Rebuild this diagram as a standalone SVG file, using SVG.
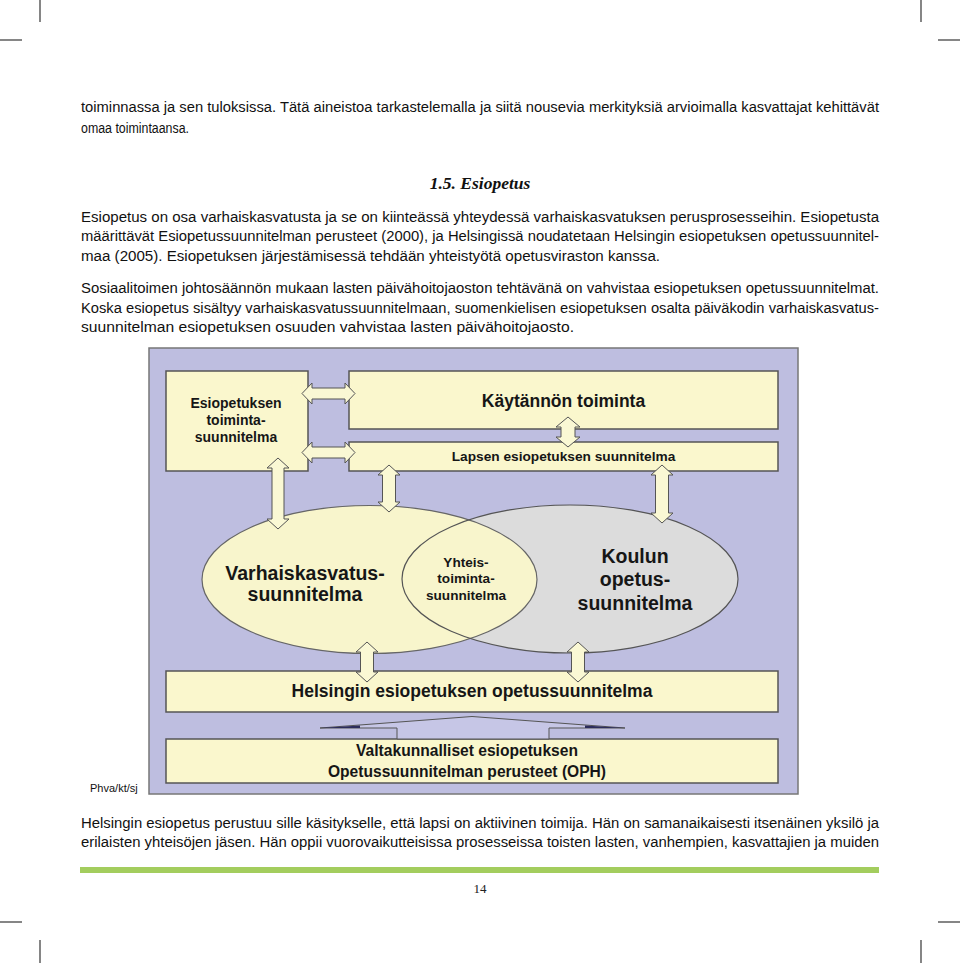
<svg xmlns="http://www.w3.org/2000/svg" width="960" height="963" viewBox="0 0 960 963">
<style>
.body{font-family:"Liberation Sans",Arial,sans-serif;font-size:14px;fill:#111}
.dg{font-family:"Liberation Sans",Arial,sans-serif;font-weight:bold;fill:#161616;text-anchor:middle}
.box{fill:#faf7cd;stroke:#555;stroke-width:1.5}
.arr{fill:#faf8d4;stroke:#555;stroke-width:1}
.crop{stroke:#444;stroke-width:1.3;fill:none}
</style>
<defs>
<clipPath id="clipL"><ellipse cx="369.5" cy="579.5" rx="167.5" ry="74"/></clipPath>
</defs>
<rect width="960" height="963" fill="#fff"/>
<!-- crop marks -->
<g id="cropmarks" class="crop">
<line x1="40" y1="0" x2="40" y2="22"/><line x1="921" y1="0" x2="921" y2="22"/>
<line x1="0" y1="40" x2="22" y2="40"/><line x1="938" y1="40" x2="960" y2="40"/>
<line x1="0" y1="922" x2="22" y2="922"/><line x1="938" y1="922" x2="960" y2="922"/>
<line x1="40" y1="940" x2="40" y2="963"/><line x1="921" y1="940" x2="921" y2="963"/>
</g>
<!-- page text -->
<g id="text-top" class="body">
<text x="81" y="112" textLength="798" lengthAdjust="spacingAndGlyphs">toiminnassa ja sen tuloksissa. Tätä aineistoa tarkastelemalla ja siitä nousevia merkityksiä arvioimalla kasvattajat kehittävät</text>
<text x="81" y="133" textLength="108" lengthAdjust="spacingAndGlyphs">omaa toimintaansa.</text>
</g>
<text id="heading" x="480" y="189" text-anchor="middle" font-family="'Liberation Serif','Times New Roman',serif" font-weight="bold" font-style="italic" font-size="17.5" fill="#111">1.5. Esiopetus</text>
<g id="text-mid" class="body">
<text x="81" y="222" textLength="798" lengthAdjust="spacingAndGlyphs">Esiopetus on osa varhaiskasvatusta ja se on kiinteässä yhteydessä varhaiskasvatuksen perusprosesseihin. Esiopetusta</text>
<text x="81" y="241" textLength="798" lengthAdjust="spacingAndGlyphs">määrittävät Esiopetussuunnitelman perusteet (2000), ja Helsingissä noudatetaan Helsingin esiopetuksen opetussuunnitel-</text>
<text x="81" y="261" textLength="579" lengthAdjust="spacingAndGlyphs">maa (2005). Esiopetuksen järjestämisessä tehdään yhteistyötä opetusviraston kanssa.</text>
<text x="81" y="293" textLength="798" lengthAdjust="spacingAndGlyphs">Sosiaalitoimen johtosäännön mukaan lasten päivähoitojaoston tehtävänä on vahvistaa esiopetuksen opetussuunnitelmat.</text>
<text x="81" y="313" textLength="798" lengthAdjust="spacingAndGlyphs">Koska esiopetus sisältyy varhaiskasvatussuunnitelmaan, suomenkielisen esiopetuksen osalta päiväkodin varhaiskasvatus-</text>
<text x="81" y="332" textLength="493" lengthAdjust="spacingAndGlyphs">suunnitelman esiopetuksen osuuden vahvistaa lasten päivähoitojaosto.</text>
</g>
<!-- diagram background -->
<rect id="diagram-bg" x="149" y="348" width="649" height="446" fill="#bebee0" stroke="#777" stroke-width="1.5"/>
<g id="node-toimintasuunnitelma">
<rect class="box" x="166" y="371" width="142" height="100"/>
<text class="dg" font-size="14"><tspan x="236" y="408">Esiopetuksen</tspan><tspan x="236" y="425">toiminta-</tspan><tspan x="236" y="442">suunnitelma</tspan></text>
</g>
<g id="node-kaytannon">
<rect class="box" x="349" y="371" width="429" height="58"/>
<text class="dg" font-size="17.5" x="563.5" y="407">Käytännön toiminta</text>
</g>
<g id="node-lapsen">
<rect class="box" x="349" y="442" width="429" height="29"/>
<text class="dg" font-size="13.7" x="563.5" y="461">Lapsen esiopetuksen suunnitelma</text>
</g>
<g id="node-helsingin">
<rect class="box" x="166" y="671" width="612" height="41"/>
<text class="dg" font-size="17.5" x="472" y="697">Helsingin esiopetuksen opetussuunnitelma</text>
</g>
<g id="node-valtakunnalliset">
<rect class="box" x="166" y="739" width="612" height="44"/>
<text class="dg" font-size="15.6"><tspan x="467" y="756">Valtakunnalliset esiopetuksen</tspan><tspan x="467" y="777">Opetussuunnitelman perusteet (OPH)</tspan></text>
</g>
<g id="node-ellipses">
<ellipse cx="369.5" cy="579.5" rx="167.5" ry="74" fill="#f8f5cc"/>
<ellipse cx="570" cy="579" rx="168" ry="74" fill="#dcdcdc"/>
<ellipse cx="570" cy="579" rx="168" ry="74" fill="#f8f5cc" clip-path="url(#clipL)"/>
<ellipse cx="369.5" cy="579.5" rx="167.5" ry="74" fill="none" stroke="#666" stroke-width="1.2"/>
<ellipse cx="570" cy="579" rx="168" ry="74" fill="none" stroke="#555" stroke-width="1.2"/>
</g>
<g id="node-varhaiskasvatus">
<text class="dg" font-size="19.5"><tspan x="305" y="580">Varhaiskasvatus-</tspan><tspan x="305" y="601">suunnitelma</tspan></text>
</g>
<g id="node-yhteistoiminta">
<text class="dg" font-size="13.6"><tspan x="466" y="567">Yhteis-</tspan><tspan x="466" y="583">toiminta-</tspan><tspan x="466" y="600">suunnitelma</tspan></text>
</g>
<g id="node-koulun">
<text class="dg" font-size="19.5"><tspan x="635" y="563">Koulun</tspan><tspan x="635" y="586">opetus-</tspan><tspan x="635" y="610">suunnitelma</tspan></text>
</g>
<!-- connectors -->
<g id="connectors">
<path class="arr" d="M302,393.5 L312,383 L312,388 L345,388 L345,383 L355,393.5 L345,404 L345,399 L312,399 L312,404 Z"/>
<path class="arr" d="M302,452.5 L312,442 L312,447 L345,447 L345,442 L355,452.5 L345,463 L345,458 L312,458 L312,463 Z"/>
<path class="arr" d="M568,417 L580,427 L575,427 L575,437 L580,437 L568,447 L556,437 L561,437 L561,427 L556,427 Z"/>
<path class="arr" d="M278,458 L289,468 L284,468 L284,519 L289,519 L278,529 L267,519 L272,519 L272,468 L267,468 Z"/>
<path class="arr" d="M389,465 L400,475 L395.5,475 L395.5,502 L400,502 L389,512 L378,502 L382.5,502 L382.5,475 L378,475 Z"/>
<path class="arr" d="M662,465 L673,475 L668.5,475 L668.5,513 L673,513 L662,523 L651,513 L655.5,513 L655.5,475 L651,475 Z"/>
<path class="arr" d="M367,642 L378,652 L373.5,652 L373.5,672 L378,672 L367,682 L356,672 L360.5,672 L360.5,652 L356,652 Z"/>
<path class="arr" d="M578,642 L589,652 L584.5,652 L584.5,672 L589,672 L578,682 L567,672 L571.5,672 L571.5,652 L567,652 Z"/>
<path d="M320,728 L472,716.5 L625,728 L549,728 L549,739 L397,739 L397,728 Z" fill="#c6c6e6" stroke="#555" stroke-width="1"/>
<path d="M320,728 L360,725.6 L360,728 Z" fill="#2c2c5c"/>
<path d="M625,728 L585,725.6 L585,728 Z" fill="#2c2c5c"/>
</g>
<text id="credit" x="90" y="792" font-family="'Liberation Sans',Arial,sans-serif" font-size="11" fill="#111">Phva/kt/sj</text>
<g id="text-bottom" class="body">
<text x="81" y="828" textLength="798" lengthAdjust="spacingAndGlyphs">Helsingin esiopetus perustuu sille käsitykselle, että lapsi on aktiivinen toimija. Hän on samanaikaisesti itsenäinen yksilö ja</text>
<text x="81" y="847" textLength="798" lengthAdjust="spacingAndGlyphs">erilaisten yhteisöjen jäsen. Hän oppii vuorovaikutteisissa prosesseissa toisten lasten, vanhempien, kasvattajien ja muiden</text>
</g>
<rect id="green-bar" x="80" y="867" width="799" height="6" fill="#a3cd5e"/>
<text id="page-number" x="480" y="893" text-anchor="middle" font-family="'Liberation Serif','Times New Roman',serif" font-size="13" fill="#222">14</text>
</svg>
